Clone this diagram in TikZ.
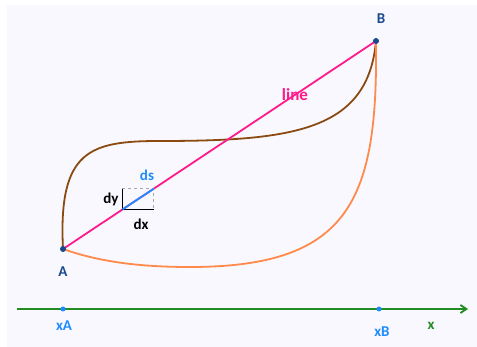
\documentclass[tikz,border=0pt]{standalone}
\usepackage{fontspec}
\setmainfont{Carlito}
\usetikzlibrary{calc,arrows.meta}
\definecolor{bgc}{HTML}{F8F8FE}
\definecolor{pinkc}{HTML}{FF1A8C}
\definecolor{brownc}{HTML}{8B4A10}
\definecolor{orangec}{HTML}{FF8A4C}
\definecolor{greenc}{HTML}{228B22}
\definecolor{bluec}{HTML}{1E8CFF}
\definecolor{darkb}{HTML}{1A4A8C}
\tikzset{
  lbl/.style={font=\bfseries\fontsize{15}{17}\selectfont},
  ptlbl/.style={lbl, text=darkb},
  bdot/.style={circle, fill=darkb, inner sep=0pt, minimum size=6pt},
  axdot/.style={circle, fill=bluec, inner sep=0pt, minimum size=5pt},
  curve/.style={line width=1.8pt},
}
\begin{document}
\begin{tikzpicture}[x=1pt,y=-1pt]
\useasboundingbox (0,0) rectangle (477,347);
\fill[bgc] (7,5) rectangle (477,347);
\coordinate (A) at (63,249);
\coordinate (B) at (376,41);
% curves
\draw[curve, brownc] (A) .. controls (58,150) and (90,141) .. (160,141)
   .. controls (295,141) and (368,130) .. (B);
\draw[curve, orangec] (A) .. controls (100,262) and (140,267) .. (190,267)
   .. controls (350,267) and (378,200) .. (B);
% line
\draw[curve, pinkc] (A) -- (B);
\node[lbl, text=pinkc, font=\bfseries\fontsize{17}{19}\selectfont] (line) at (295,95) {line};
% ds box
\coordinate (P1) at ($(A)!0.19!(B)$);
\coordinate (P2) at ($(A)!0.29!(B)$);
\coordinate (P3) at (P1 |- P2);
\coordinate (P4) at (P2 |- P1);
\draw[gray!70, dashed, line width=0.8pt] (P3) -- (P2) -- (P4);
\draw[black, line width=1.8pt] (P3) -- (P1) -- (P4);
\draw[bluec, line width=1.8pt] (P1) -- (P2);
\node[lbl] (dy) at (111,199) {dy};
\node[lbl] (dx) at (141,224) {dx};
\node[lbl, text=bluec] (ds) at (147,175) {ds};
% endpoints
\node[bdot] (Ad) at (A) {};
\node[bdot] (Bd) at (B) {};
\node[ptlbl] (Al) at (63,272) {A};
\node[ptlbl] (Bl) at (381,19) {B};
% axis
\coordinate (ax0) at (17,309);
\coordinate (ax1) at (468,309);
\draw[greenc, line width=1.8pt, -{Straight Barb[length=6pt,width=8pt]}] (ax0) -- (ax1);
\node[axdot] (xAd) at (63,309) {};
\node[axdot] (xBd) at (379,309) {};
\node[lbl, text=bluec] (xA) at (64,326) {xA};
\node[lbl, text=bluec] (xB) at (382,332) {xB};
\node[lbl, text=greenc] (x) at (431,326) {x};
\end{tikzpicture}
\end{document}
